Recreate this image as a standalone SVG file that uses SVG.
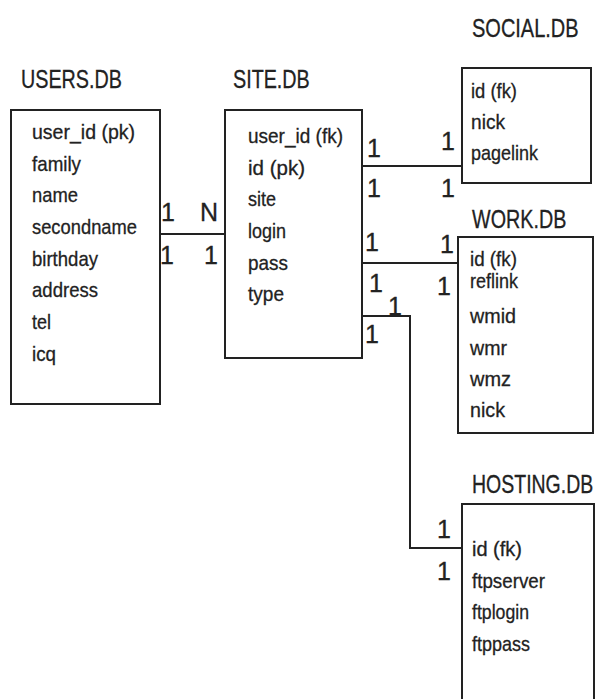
<svg xmlns="http://www.w3.org/2000/svg" width="600" height="699" viewBox="0 0 600 699">
<style>
  .box{fill:#fff;stroke:#222;stroke-width:2}
  .ln{fill:none;stroke:#222;stroke-width:2}
  text{font-family:"Liberation Sans",Arial,sans-serif;fill:#222;stroke:#222;stroke-width:0.3}
  .t{font-size:25px}
  .f{font-size:21px}
  .c{font-size:25px}
</style>
<rect width="600" height="699" fill="#fff"/>
<g id="connectors">
  <path class="ln" d="M160,234 H225"/>
  <path class="ln" d="M362,166 H462"/>
  <path class="ln" d="M362,263 H458"/>
  <path class="ln" d="M362,316 H410 V548 H462"/>
  <text class="c" x="161" y="221">1</text>
  <text class="c" x="200" y="221">N</text>
  <text class="c" x="160" y="264">1</text>
  <text class="c" x="204" y="264">1</text>
  <text class="c" x="367" y="157">1</text>
  <text class="c" x="441" y="150">1</text>
  <text class="c" x="367" y="197">1</text>
  <text class="c" x="441" y="197">1</text>
  <text class="c" x="365" y="251">1</text>
  <text class="c" x="440" y="253">1</text>
  <text class="c" x="369" y="292">1</text>
  <text class="c" x="437" y="295">1</text>
  <text class="c" x="388" y="315">1</text>
  <text class="c" x="365" y="343">1</text>
  <text class="c" x="437" y="538">1</text>
  <text class="c" x="437" y="580">1</text>
</g>
<g id="users">
  <text class="t" transform="translate(21,88) scale(0.79,1)">USERS.DB</text>
  <rect class="box" x="11" y="110" width="149" height="294"/>
  <text class="f" x="32" y="139" textLength="103" lengthAdjust="spacingAndGlyphs">user_id  (pk)</text>
  <text class="f" x="32" y="171" textLength="49" lengthAdjust="spacingAndGlyphs">family</text>
  <text class="f" x="32" y="202" textLength="46" lengthAdjust="spacingAndGlyphs">name</text>
  <text class="f" x="32" y="234" textLength="105" lengthAdjust="spacingAndGlyphs">secondname</text>
  <text class="f" x="32" y="266" textLength="66" lengthAdjust="spacingAndGlyphs">birthday</text>
  <text class="f" x="32" y="297" textLength="66" lengthAdjust="spacingAndGlyphs">address</text>
  <text class="f" x="32" y="329" textLength="19" lengthAdjust="spacingAndGlyphs">tel</text>
  <text class="f" x="32" y="361" textLength="24" lengthAdjust="spacingAndGlyphs">icq</text>
</g>
<g id="site">
  <text class="t" transform="translate(233,88) scale(0.79,1)">SITE.DB</text>
  <rect class="box" x="225" y="110" width="137" height="248"/>
  <text class="f" x="248" y="143" textLength="95" lengthAdjust="spacingAndGlyphs">user_id (fk)</text>
  <text class="f" x="248" y="175" textLength="57" lengthAdjust="spacingAndGlyphs">id  (pk)</text>
  <text class="f" x="248" y="206" textLength="28" lengthAdjust="spacingAndGlyphs">site</text>
  <text class="f" x="248" y="238" textLength="38" lengthAdjust="spacingAndGlyphs">login</text>
  <text class="f" x="248" y="270" textLength="40" lengthAdjust="spacingAndGlyphs">pass</text>
  <text class="f" x="248" y="301" textLength="36" lengthAdjust="spacingAndGlyphs">type</text>
</g>
<g id="social">
  <text class="t" transform="translate(472,37) scale(0.8,1)">SOCIAL.DB</text>
  <rect class="box" x="462" y="68" width="129" height="115"/>
  <text class="f" x="471" y="98" textLength="46" lengthAdjust="spacingAndGlyphs">id (fk)</text>
  <text class="f" x="471" y="129" textLength="34" lengthAdjust="spacingAndGlyphs">nick</text>
  <text class="f" x="471" y="160" textLength="67" lengthAdjust="spacingAndGlyphs">pagelink</text>
</g>
<g id="work">
  <text class="t" transform="translate(472,228) scale(0.79,1)">WORK.DB</text>
  <rect class="box" x="458" y="237" width="135" height="196"/>
  <text class="f" x="470" y="266" textLength="47" lengthAdjust="spacingAndGlyphs">id (fk)</text>
  <text class="f" x="470" y="288" textLength="48" lengthAdjust="spacingAndGlyphs">reflink</text>
  <text class="f" x="470" y="323" textLength="46" lengthAdjust="spacingAndGlyphs">wmid</text>
  <text class="f" x="470" y="355" textLength="37" lengthAdjust="spacingAndGlyphs">wmr</text>
  <text class="f" x="470" y="386" textLength="41" lengthAdjust="spacingAndGlyphs">wmz</text>
  <text class="f" x="470" y="417" textLength="35" lengthAdjust="spacingAndGlyphs">nick</text>
</g>
<g id="hosting">
  <text class="t" transform="translate(472,493) scale(0.78,1)">HOSTING.DB</text>
  <rect class="box" x="462" y="504" width="132" height="200"/>
  <text class="f" x="472" y="556" textLength="50" lengthAdjust="spacingAndGlyphs">id  (fk)</text>
  <text class="f" x="472" y="588" textLength="73" lengthAdjust="spacingAndGlyphs">ftpserver</text>
  <text class="f" x="472" y="619" textLength="57" lengthAdjust="spacingAndGlyphs">ftplogin</text>
  <text class="f" x="472" y="651" textLength="58" lengthAdjust="spacingAndGlyphs">ftppass</text>
</g>
</svg>
